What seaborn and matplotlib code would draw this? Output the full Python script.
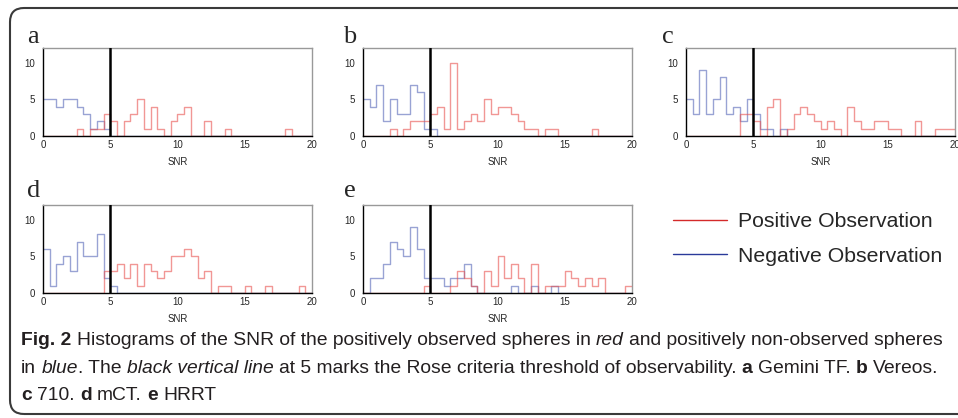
import pandas as pd
import matplotlib
matplotlib.use("Agg")
import matplotlib.pyplot as plt
import matplotlib.transforms as mtransforms
from matplotlib.patches import FancyBboxPatch
from matplotlib.lines import Line2D
import seaborn as sns

# SNR bins of width 0.5 from 0 to 20
bin_edges = [i * 0.5 for i in range(41)]

# counts per bin (red = positive, blue = negative)
a_pos = [0, 0, 0, 0, 0, 1, 0, 1, 1, 3, 2, 0, 2, 3, 5, 1, 4, 1, 0, 2,
         3, 4, 0, 0, 2, 0, 0, 1, 0, 0, 0, 0, 0, 0, 0, 0, 1, 0, 0, 0]
a_neg = [5, 5, 4, 5, 5, 4, 3, 1, 2, 1, 0, 0, 0, 0, 0, 0, 0, 0, 0, 0,
         0, 0, 0, 0, 0, 0, 0, 0, 0, 0, 0, 0, 0, 0, 0, 0, 0, 0, 0, 0]
b_pos = [0, 0, 0, 0, 1, 0, 1, 2, 2, 2, 3, 4, 1, 10, 1, 2, 3, 2, 5, 3,
         4, 4, 3, 2, 1, 1, 0, 1, 1, 0, 0, 0, 0, 0, 1, 0, 0, 0, 0, 0]
b_neg = [5, 4, 7, 2, 5, 3, 3, 7, 6, 1, 1, 0, 0, 0, 0, 0, 0, 0, 0, 0,
         0, 0, 0, 0, 0, 0, 0, 0, 0, 0, 0, 0, 0, 0, 0, 0, 0, 0, 0, 0]
c_pos = [0, 0, 0, 0, 0, 0, 0, 0, 3, 3, 2, 0, 4, 5, 0, 1, 3, 4, 3, 2,
         1, 2, 1, 0, 4, 2, 1, 1, 2, 2, 1, 1, 0, 0, 2, 0, 0, 1, 1, 1]
c_neg = [5, 3, 9, 3, 5, 8, 3, 4, 2, 5, 3, 1, 1, 0, 1, 0, 0, 0, 0, 0,
         0, 0, 0, 0, 0, 0, 0, 0, 0, 0, 0, 0, 0, 0, 0, 0, 0, 0, 0, 0]
d_pos = [0, 0, 0, 0, 0, 0, 0, 0, 0, 3, 3, 4, 2, 4, 1, 4, 3, 2, 3, 5,
         5, 6, 5, 2, 3, 0, 1, 1, 0, 0, 1, 0, 0, 1, 0, 0, 0, 0, 1, 0]
d_neg = [6, 1, 4, 5, 3, 7, 5, 5, 8, 2, 1, 0, 0, 0, 0, 0, 0, 0, 0, 0,
         0, 0, 0, 0, 0, 0, 0, 0, 0, 0, 0, 0, 0, 0, 0, 0, 0, 0, 0, 0]
e_pos = [0, 0, 0, 0, 0, 0, 0, 0, 0, 1, 0, 0, 0, 1, 3, 2, 1, 0, 3, 1,
         5, 2, 4, 2, 0, 4, 0, 1, 1, 1, 3, 2, 1, 2, 1, 2, 0, 0, 0, 1]
e_neg = [0, 2, 2, 4, 7, 6, 5, 9, 6, 2, 2, 2, 1, 2, 2, 4, 1, 0, 0, 0,
         0, 0, 1, 0, 0, 1, 0, 0, 1, 0, 0, 0, 0, 0, 0, 0, 0, 0, 0, 0]

x_ticks = [0, 5, 10, 15, 20]
y_ticks = [0, 5, 10]
threshold = 5
legend_labels = ["Positive Observation", "Negative Observation"]

POS_COLOR = "#e8524f"
NEG_COLOR = "#5566b8"

sns.set_style("white")
plt.rcParams["font.family"] = ["Liberation Sans", "DejaVu Sans"]

W, H = 958, 418
fig = plt.figure(figsize=(W / 100, H / 100), dpi=100)
fig.patch.set_facecolor("white")

# rounded frame around the whole figure, in pixels
frame = FancyBboxPatch((10, 4), 990, 406, boxstyle="round,pad=0,rounding_size=14",
                       transform=mtransforms.IdentityTransform(),
                       fill=False, edgecolor="#3a3a3a", linewidth=1.5)
fig.add_artist(frame)

centers = [(lo + hi) / 2 for lo, hi in zip(bin_edges[:-1], bin_edges[1:])]

# letter, pos, neg, axes left, axes top, letter x, letter baseline (pixels)
panels = [
    ("a", a_pos, a_neg, 43, 48, 27, 43),
    ("b", b_pos, b_neg, 363, 48, 343, 43),
    ("c", c_pos, c_neg, 686, 48, 662, 43),
    ("d", d_pos, d_neg, 43, 205, 27, 197),
    ("e", e_pos, e_neg, 363, 205, 344, 197),
]

for letter, pos, neg, left, top, lx, ly in panels:
    ax = fig.add_axes([left / W, 1 - (top + 88) / H, 269 / W, 88 / H])
    df = pd.DataFrame({"snr": centers, "neg": neg, "pos": pos})
    sns.histplot(data=df, x="snr", weights="neg", bins=bin_edges, element="step",
                 fill=False, color=NEG_COLOR, alpha=0.6, linewidth=1.0, ax=ax)
    sns.histplot(data=df, x="snr", weights="pos", bins=bin_edges, element="step",
                 fill=False, color=POS_COLOR, alpha=0.6, linewidth=1.0, ax=ax)
    ax.axvline(threshold, color="black", linewidth=1.8, zorder=5)
    ax.set_xlim(0, 20)
    ax.set_ylim(0, 12)
    ax.set_xticks(x_ticks)
    ax.set_yticks(y_ticks)
    ax.set_ylabel("")
    ax.set_xlabel("SNR", fontsize=7, labelpad=5)
    for side in ["top", "right"]:
        ax.spines[side].set_color("#999999")
        ax.spines[side].set_linewidth(1.0)
    for side in ["left", "bottom"]:
        ax.spines[side].set_color("black")
        ax.spines[side].set_linewidth(1.0)
    ax.tick_params(axis="x", direction="in", length=3, width=0.8, labelsize=7, pad=3)
    ax.tick_params(axis="y", length=0, labelsize=7, pad=6)
    fig.text(lx / W, 1 - ly / H, letter, family="Liberation Serif", fontsize=19,
             va="baseline", ha="left")

# legend
handles = [Line2D([], [], color="#d42a2a", linewidth=1.0),
           Line2D([], [], color="#2a3a9a", linewidth=1.0)]
fig.legend(handles, legend_labels, loc="upper left", bbox_to_anchor=(673 / W, 1 - 212 / H),
           frameon=False, fontsize=15.3, handlelength=2.55, handletextpad=0.52,
           labelspacing=0.74, borderpad=0, borderaxespad=0)

# caption with mixed styles
CAP_SIZE = 13.9
CAP_COLOR = "#231f20"
renderer = fig.canvas.get_renderer()


def text_width(s, **kw):
    t = fig.text(0, 0, s, fontsize=CAP_SIZE, **kw)
    w = t.get_window_extent(renderer).width
    t.remove()
    return w


space_w = text_width("x x") - text_width("xx")


def caption_line(x_px, base_px, runs):
    x = x_px
    for s, weight, style in runs:
        lead = len(s) - len(s.lstrip(" "))
        trail = len(s) - len(s.rstrip(" "))
        word = s.strip(" ")
        x += lead * space_w
        t = fig.text(x / W, 1 - base_px / H, word, fontsize=CAP_SIZE, color=CAP_COLOR,
                     weight=weight, style=style, va="baseline", ha="left")
        x += t.get_window_extent(renderer).width
        x += trail * space_w


N, B, I = "normal", "bold", "italic"
caption_line(21, 345, [
    ("Fig. 2", B, N),
    (" Histograms of the SNR of the positively observed spheres in ", N, N),
    ("red", N, I),
    (" and positively non-observed spheres", N, N),
])
caption_line(21, 373, [
    ("in ", N, N), ("blue", N, I), (". The ", N, N), ("black vertical line", N, I),
    (" at 5 marks the Rose criteria threshold of observability. ", N, N),
    ("a", B, N), (" Gemini TF. ", N, N), ("b", B, N), (" Vereos.", N, N),
])
caption_line(21, 400, [
    ("c", B, N), (" 710. ", N, N), ("d", B, N), (" mCT. ", N, N),
    ("e", B, N), (" HRRT", N, N),
])

fig.savefig("out.png", dpi=100)
